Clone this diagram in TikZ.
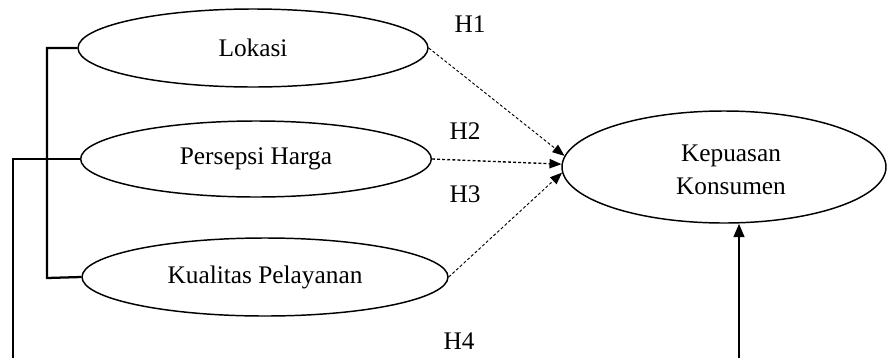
\documentclass[tikz,border=0pt]{standalone}
\usepackage{fontspec}
\setmainfont{Liberation Serif}
\usetikzlibrary{shapes.geometric,arrows.meta}

\tikzset{every picture/.style={line width=0.75pt}}
\tikzset{
  varbox/.style={draw, ellipse, inner sep=0pt, line width=1.1pt, font=\fontsize{19}{25}\selectfont},
  hlabel/.style={inner sep=0.75pt, font=\fontsize{19}{25}\selectfont},
  bracket/.style={line width=1.7pt},
  hypo/.style={dash pattern=on 2.2pt off 1.6pt, line width=0.7pt, -{Triangle[length=9pt,width=7pt]}}
}

\begin{document}
\begin{tikzpicture}[x=0.75pt,y=0.75pt,yscale=-1,xscale=1]
		\useasboundingbox (0,0) rectangle (888,358);

		%Shape: Ellipse [Lokasi]
		\node [varbox, minimum width=262.5pt, minimum height=58.5pt] (lokasi) at (253,48) {Lokasi};
		%Shape: Ellipse [Persepsi Harga]
		\node [varbox, minimum width=263pt, minimum height=57pt] (persepsi) at (256,159) {Persepsi Harga};
		%Shape: Ellipse [Kualitas Pelayanan]
		\node [varbox, minimum width=274.5pt, minimum height=58.5pt] (kualitas) at (265,277) {Kualitas Pelayanan};
		%Shape: Ellipse [Kepuasan Konsumen]
		\node [varbox, minimum width=243pt, minimum height=84pt] (kepuasan) at (724,167) {};
		% Text Node
		\node [hlabel, align=center] (kepuasanText) at (731,170) {Kepuasan\\Konsumen};

		% Coordinates
		\coordinate (bracketTop) at (47,48);
		\coordinate (bracketBot) at (47,278);
		\coordinate (loopLeft) at (13,358);
		\coordinate (loopRight) at (739,358);

		% Bracket lines
		\draw [bracket] (lokasi.west) -- (bracketTop) -- (bracketBot) -- (kualitas.west);
		\draw [bracket] (persepsi.west) -| (loopLeft);
		\draw [bracket, -{Triangle[length=10pt,width=8pt]}] (loopRight) -- (loopRight |- kepuasan.south);

		% Dashed arrows
		\draw [hypo] (lokasi.east) -- (kepuasan.176);
		\draw [hypo, line width=1pt] (persepsi.east) -- (kepuasan.179);
		\draw [hypo] (kualitas.east) -- (kepuasan.182);

		% Text Node
		\node [hlabel] (h1) at (470,24) {H1};
		% Text Node
		\node [hlabel] (h2) at (465,131) {H2};
		% Text Node
		\node [hlabel] (h3) at (465,194) {H3};
		% Text Node
		\node [hlabel] (h4) at (459,341) {H4};

	\end{tikzpicture}
\end{document}
